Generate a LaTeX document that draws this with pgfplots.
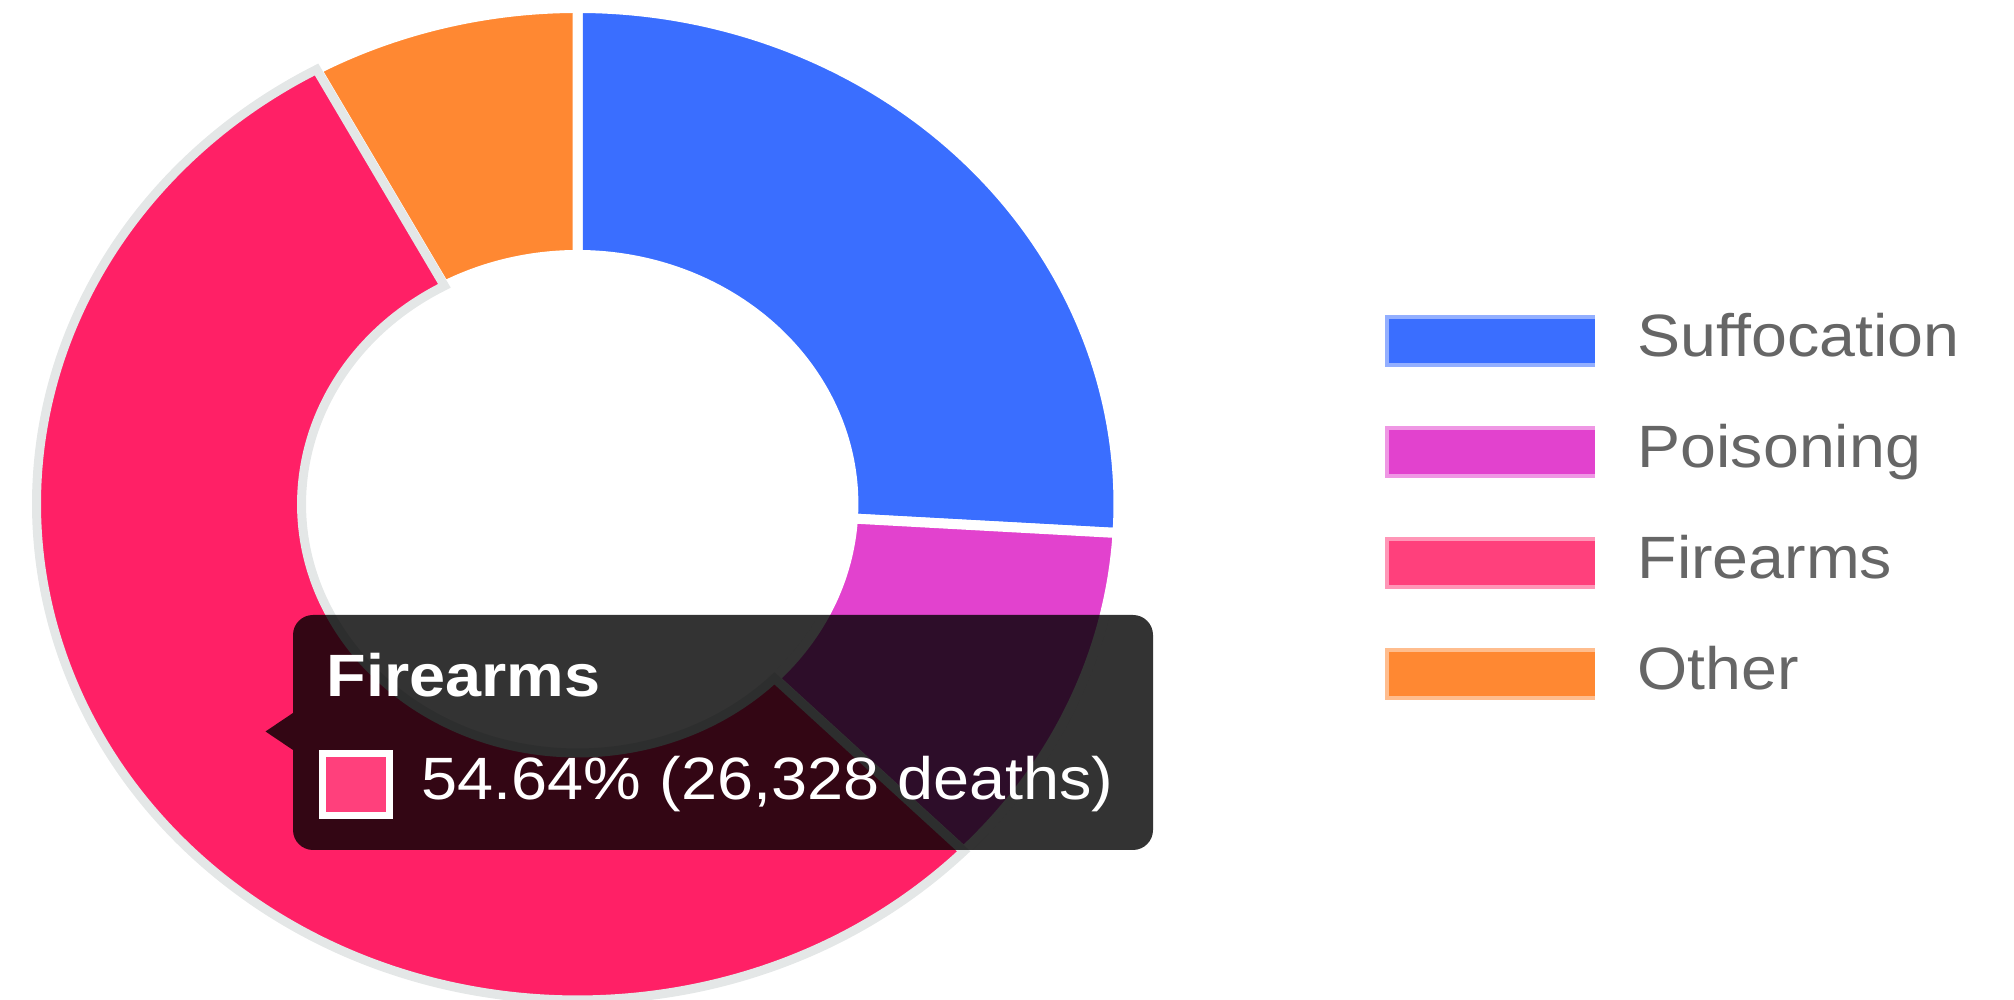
\documentclass[border=0pt]{standalone}
\usepackage{pgfplots}
\pgfplotsset{compat=1.18}
\usepackage{pgfplotstable}
\usepackage{fontspec}
\setmainfont{Liberation Sans}
\usepackage{graphicx}

\definecolor{cSuff}{RGB}{58,110,255}
\definecolor{cPois}{RGB}{226,66,206}
\definecolor{cFire}{RGB}{255,32,102}
\definecolor{cFireL}{RGB}{255,64,124}
\definecolor{cOther}{RGB}{255,136,50}
\definecolor{cHover}{RGB}{228,231,231}
\definecolor{cLegText}{RGB}{102,102,102}

% deaths in thousands
\pgfplotstableread{
cause deaths
Suffocation 12.495
Poisoning 5.500
Firearms 26.328
Other 3.860
}\deathdata

\newcommand{\slice}[3]{%
  \path[#3] (axis cs:{cos(#1)},{sin(#1)})
    arc[start angle=#1, end angle=#2, x radius=5.41cm, y radius=4.96cm]
    -- (axis cs:{0.51*cos(#2)},{0.502*sin(#2)})
    arc[start angle=#2, end angle=#1, x radius=2.759cm, y radius=2.49cm]
    -- cycle;}

\begin{document}
\begin{tikzpicture}[x=1cm,y=1cm]
\fontsize{17pt}{20pt}\selectfont
\path[use as bounding box] (0,0) rectangle (20.14,10);

\pgfplotstablegetelem{0}{deaths}\of\deathdata \let\vA\pgfplotsretval
\pgfplotstablegetelem{1}{deaths}\of\deathdata \let\vB\pgfplotsretval
\pgfplotstablegetelem{2}{deaths}\of\deathdata \let\vC\pgfplotsretval
\pgfplotstablegetelem{3}{deaths}\of\deathdata \let\vD\pgfplotsretval
\pgfmathsetmacro\total{\vA+\vB+\vC+\vD}
\pgfmathsetmacro\aA{90}
\pgfmathsetmacro\aB{\aA-360*\vA/\total}
\pgfmathsetmacro\aC{\aB-360*\vB/\total}
\pgfmathsetmacro\aD{\aC-360*\vC/\total}
\pgfmathsetmacro\aE{\aD-360*\vD/\total}

\begin{axis}[hide axis, x=5.41cm, y=4.96cm,
  xmin=-1.05, xmax=1.05, ymin=-1.05, ymax=1.05,
  anchor=origin, at={(5.775cm,4.96cm)}, clip=false]
  \slice{\aA}{\aB}{fill=cSuff, draw=white, line width=0.1cm}
  \slice{\aB}{\aC}{fill=cPois, draw=white, line width=0.1cm}
  \slice{\aD}{\aE}{fill=cOther, draw=white, line width=0.1cm}
  \slice{\aC}{\aD}{fill=cFire, draw=cHover, line width=0.09cm}
\end{axis}

% tooltip
\fill[black, fill opacity=0.8]
  (2.655,2.685) -- (2.93,2.87) -- (2.93,3.65)
  arc[start angle=180, end angle=90, radius=0.2] -- (11.33,3.85)
  arc[start angle=90, end angle=0, radius=0.2] -- (11.53,1.70)
  arc[start angle=0, end angle=-90, radius=0.2] -- (3.13,1.50)
  arc[start angle=270, end angle=180, radius=0.2] -- (2.93,2.50) -- cycle;
\node[anchor=base west, inner sep=0pt, text=white] at (3.26,3.03)
  {\scalebox{1.085}[1]{\bfseries Firearms}};
\fill[white] (3.19,1.81) rectangle (3.93,2.50);
\fill[cFireL] (3.26,1.88) rectangle (3.86,2.43);
\node[anchor=base west, inner sep=0pt, text=white] at (4.21,2.00)
  {\scalebox{1.085}[1]{54.64\% (26,328 deaths)}};

% legend
\foreach \nm/\cl/\yc in {Suffocation/cSuff/6.59, Poisoning/cPois/5.48, Firearms/cFireL/4.37, Other/cOther/3.26}{
  \fill[\cl!55!white] (13.85,\yc-0.26) rectangle (15.95,\yc+0.26);
  \fill[\cl] (13.89,\yc-0.22) rectangle (15.95,\yc+0.22);
  \node[anchor=base west, inner sep=0pt, text=cLegText] at (16.37,\yc-0.16)
    {\scalebox{1.08}[1]{\nm}};
}
\end{tikzpicture}
\end{document}
